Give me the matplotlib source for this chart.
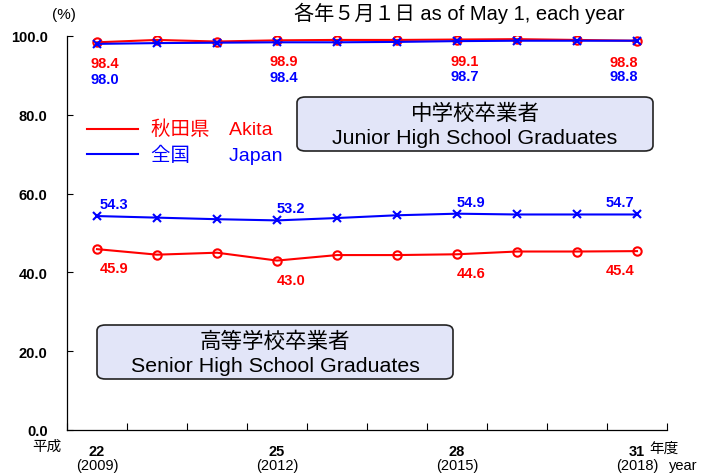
import matplotlib
matplotlib.use("Agg")
import matplotlib.pyplot as plt
from matplotlib.patches import FancyBboxPatch
from matplotlib import font_manager as fm

years_heisei = ["22", "", "", "25", "", "", "28", "", "", "31"]
years_ad = ["(2009)", "", "", "(2012)", "", "", "(2015)", "", "", "(2018)"]
akita_jh = [98.4, 99.0, 98.6, 98.9, 99.0, 99.0, 99.1, 99.2, 99.0, 98.8]
japan_jh = [98.0, 98.2, 98.3, 98.4, 98.4, 98.5, 98.7, 98.8, 98.8, 98.8]
akita_sh = [45.9, 44.5, 45.0, 43.0, 44.4, 44.4, 44.6, 45.3, 45.3, 45.4]
japan_sh = [54.3, 53.9, 53.5, 53.2, 53.8, 54.5, 54.9, 54.7, 54.7, 54.7]
label_idx = [0, 3, 6, 9]
yticks = [0, 20, 40, 60, 80, 100]

names = {f.name for f in fm.fontManager.ttflist}
narrow = 'Liberation Sans Narrow' if 'Liberation Sans Narrow' in names else 'Liberation Sans'
plt.rcParams['font.family'] = ['Liberation Sans', 'Noto Sans CJK JP', 'DejaVu Sans']
NFAM = [narrow, 'Noto Sans CJK JP', 'DejaVu Sans']
CJK = ['Liberation Sans', 'Noto Sans CJK JP', 'DejaVu Sans']

fig = plt.figure(figsize=(7.01, 4.77), dpi=100)
ax = fig.add_axes([67/701, 1-431/477, 600/701, 394/477])
x = list(range(len(akita_jh)))
RED = '#ff0000'
BLUE = '#0000ff'

ax.plot(x, akita_jh, color=RED, lw=1.5, marker='o', ms=6, mfc='none', mew=1.5, zorder=3)
ax.plot(x, japan_jh, color=BLUE, lw=1.5, marker='x', ms=6, mew=1.5, zorder=4)
ax.plot(x, akita_sh, color=RED, lw=1.5, marker='o', ms=6, mfc='none', mew=1.5, zorder=3)
ax.plot(x, japan_sh, color=BLUE, lw=1.5, marker='x', ms=6, mew=1.5, zorder=4)

ax.set_xlim(-0.5, 9.5)
ax.set_ylim(0, 100)
ax.set_xticks([i + 0.5 for i in range(-1, 10)])
ax.set_xticklabels([])
ax.set_yticks(yticks)
ax.set_yticklabels([f"{v:.1f}" for v in yticks], fontweight='bold', fontsize=10.5, family=NFAM)
ax.tick_params(axis='x', direction='in', length=5, width=0.8)
ax.tick_params(axis='y', direction='in', length=4, width=0.8, pad=14)
for s in ['top', 'right']:
    ax.spines[s].set_visible(False)
for s in ['left', 'bottom']:
    ax.spines[s].set_linewidth(0.9)

lab_kw = dict(textcoords='offset pixels', ha='center', va='center', fontweight='bold', fontsize=10.5, family=NFAM)
jh_dx = [8, 7, 8, -13]
sh_dx = [17, 14, 14, -17]
for k, i in enumerate(label_idx):
    ax.annotate(f"{akita_jh[i]:.1f}", (i, akita_jh[i]), xytext=(jh_dx[k], -21), color=RED, **lab_kw)
    ax.annotate(f"{japan_jh[i]:.1f}", (i, japan_jh[i]), xytext=(jh_dx[k], -35), color=BLUE, **lab_kw)
    ax.annotate(f"{japan_sh[i]:.1f}", (i, japan_sh[i]), xytext=(sh_dx[k], 12), color=BLUE, **lab_kw)
    ax.annotate(f"{akita_sh[i]:.1f}", (i, akita_sh[i]), xytext=(sh_dx[k], -19), color=RED, **lab_kw)

# x labels
for i in range(len(years_heisei)):
    if years_heisei[i]:
        fig.text((97 + 60*i)/701, 1-452/477, years_heisei[i], ha='center', va='center',
                 fontweight='bold', fontsize=10.5, family=NFAM)
        fig.text((97 + 60*i)/701, 1-466/477, years_ad[i], ha='center', va='center',
                 fontsize=10.5, family=NFAM)
fig.text(47/701, 1-447/477, "平成", ha='center', va='center', fontsize=10.5, family=CJK)
fig.text(649/701, 1-449/477, "年度", ha='left', va='center', fontsize=10.5, family=CJK)
fig.text(669/701, 1-466/477, "year", ha='left', va='center', fontsize=10.5, family=NFAM)
fig.text(52/701, 1-15/477, "(%)", ha='left', va='center', fontsize=11, family=CJK)
fig.text(459/701, 1-13/477, "各年５月１日 as of May 1, each year", ha='center', va='center',
         fontsize=14.5, family=CJK)

# legend
fig.add_artist(plt.Line2D([87/701, 138/701], [1-130/477, 1-130/477], color=RED, lw=1.5))
fig.add_artist(plt.Line2D([87/701, 138/701], [1-155/477, 1-155/477], color=BLUE, lw=1.5))
fig.text(151/701, 1-130/477, "秋田県　Akita", color=RED, ha='left', va='center', fontsize=14, family=CJK)
fig.text(151/701, 1-155/477, "全国　　Japan", color=BLUE, ha='left', va='center', fontsize=14, family=CJK)

# boxes
def box(x0, y0, x1, y1, l1, l2):
    p = FancyBboxPatch((x0/701, 1-y1/477), (x1-x0)/701, (y1-y0)/477,
                       boxstyle="round,pad=0,rounding_size=0.012", transform=fig.transFigure,
                       facecolor='#e2e5f8', edgecolor='#222222', lw=1.2, zorder=5)
    fig.add_artist(p)
    cx = (x0 + x1) / 2 / 701
    fig.text(cx, 1-(y0+16)/477, l1, ha='center', va='center', fontsize=15.5, family=CJK, zorder=6)
    fig.text(cx, 1-(y0+41)/477, l2, ha='center', va='center', fontsize=15.4, family=CJK, zorder=6)

box(297, 98, 653, 152, "中学校卒業者", "Junior High School Graduates")
box(97, 326, 453, 380, "高等学校卒業者", "Senior High School Graduates")

fig.savefig("out.png", dpi=100)
